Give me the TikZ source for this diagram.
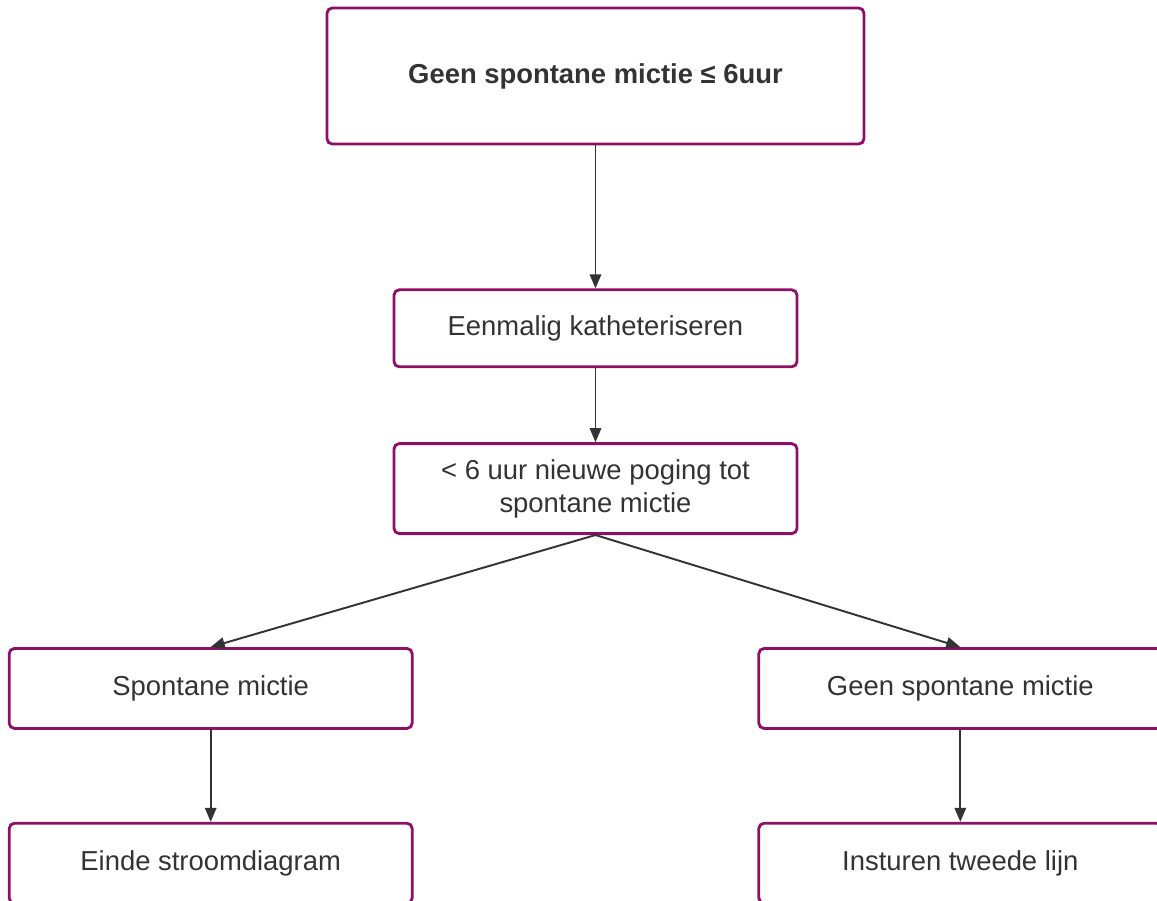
\documentclass[tikz,border=0pt]{standalone}
\usepackage{fontspec}
\setmainfont{Liberation Sans}
\usetikzlibrary{positioning,arrows.meta}

\definecolor{paars}{RGB}{140,16,100}
\definecolor{tekst}{RGB}{51,51,51}

\begin{document}
\begin{tikzpicture}[
    >={Triangle[length=8pt,width=6.5pt]},
    block/.style={draw=paars, line width=1.6pt, rounded corners=3pt, fill=white,
      text=tekst, align=center, minimum width=8.06cm, minimum height=1.6cm,
      font=\fontsize{15.6}{18.8}\selectfont},
    pijl/.style={->, draw=tekst, line width=1.1pt}
]
  \useasboundingbox (0,0) rectangle (23.14,-18);

  % Middle column
  \node[block, minimum width=10.74cm, minimum height=2.72cm,
        font=\fontsize{15.6}{18.8}\selectfont\bfseries]
        (start) at (11.91,-1.52) {Geen spontane mictie ≤ 6uur};
  \node[block, minimum height=1.54cm] (kath)   [below=2.86cm of start] {Eenmalig katheteriseren};
  \node[block, minimum height=1.8cm]  (poging) [below=1.48cm of kath] {< 6 uur nieuwe poging tot\\spontane mictie};

  % Two branches
  \node[block] (spont)  [below left=2.24cm and -0.42cm of poging] {Spontane mictie};
  \node[block] (geen)   [below right=2.24cm and -0.82cm of poging] {Geen spontane mictie};
  \node[block] (einde)  [below=1.84cm of spont] {Einde stroomdiagram};
  \node[block] (tweede) [below=1.84cm of geen] {Insturen tweede lijn};

  % Arrows
  \draw[pijl] (start) -- (kath);
  \draw[pijl] (kath) -- (poging);
  \draw[pijl] (poging.south) -- (spont.north);
  \draw[pijl] (poging.south) -- (geen.north);
  \draw[pijl] (spont) -- (einde);
  \draw[pijl] (geen) -- (tweede);
\end{tikzpicture}
\end{document}
